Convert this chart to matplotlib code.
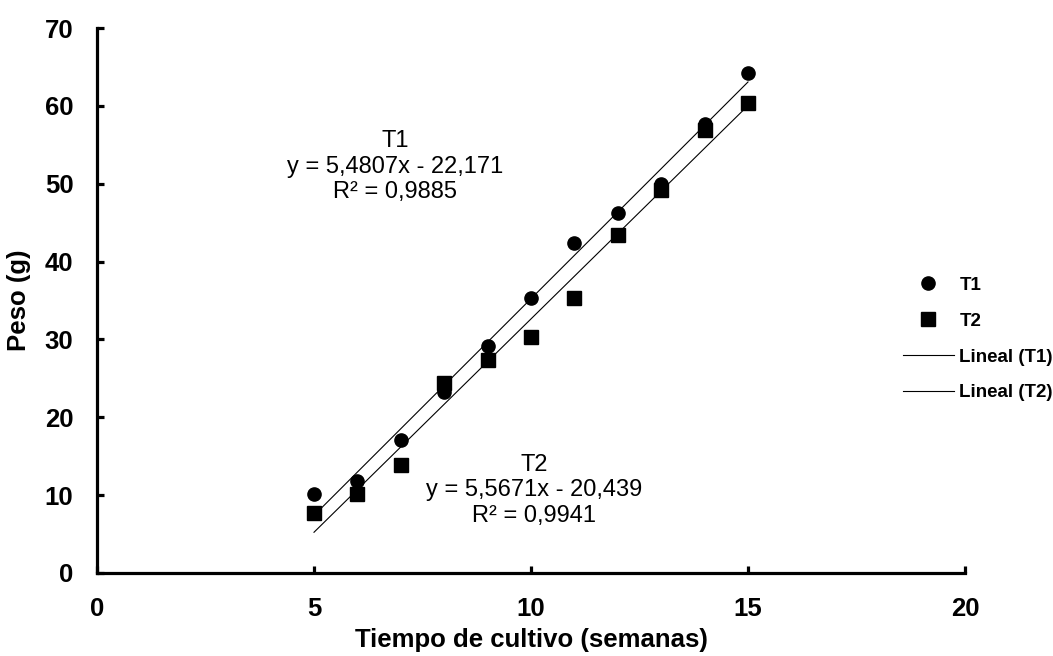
import matplotlib
matplotlib.use("Agg")
import matplotlib.pyplot as plt
import numpy as np

# weekly mean weight per treatment
semanas = [5, 6, 7, 8, 9, 10, 11, 12, 13, 14, 15]
peso_t1 = [10.2, 11.8, 17.1, 23.3, 29.1, 35.3, 42.4, 46.2, 49.9, 57.7, 64.2]
peso_t2 = [7.7, 10.1, 13.9, 24.4, 27.4, 30.3, 35.3, 43.4, 49.2, 56.9, 60.4]

# trendline coefficients (slope, intercept, R²) as reported
fit_t1 = (5.4807, -22.171, 0.9885)
fit_t2 = (5.5671, -20.439, 0.9941)

plt.rcParams.update({"font.family": ["Liberation Sans", "DejaVu Sans"]})

fig = plt.figure(figsize=(10.53, 6.56), dpi=100)
ax = fig.add_axes([97 / 1053, 83 / 656, 868 / 1053, 545 / 656])

ax.plot(semanas, peso_t1, "o", color="black", markersize=9.5, label="T1", zorder=3)
ax.plot(semanas, peso_t2, "s", color="black", markersize=9.5, label="T2", zorder=3)

xs = np.array([semanas[0], semanas[-1]])
ax.plot(xs, fit_t1[0] * xs + fit_t1[1], "-", color="black", lw=0.8, label="Lineal (T1)")
ax.plot(xs, fit_t2[0] * xs + fit_t2[1], "-", color="black", lw=0.8, label="Lineal (T2)")


def eq_text(name, fit):
    a, b, r2 = fit
    sign = "-" if b < 0 else "+"
    s = f"{name}\ny = {a:.4f}x {sign} {abs(b):.3f}\nR² = {r2:.4f}"
    return s.replace(".", ",")


ax.text(6.87, 52.2, eq_text("T1", fit_t1), ha="center", va="center",
        fontsize=17, linespacing=1.2)
ax.text(10.07, 10.6, eq_text("T2", fit_t2), ha="center", va="center",
        fontsize=17, linespacing=1.2)

ax.set_xlim(0, 20)
ax.set_ylim(0, 70)
ax.set_xticks(range(0, 21, 5))
ax.set_yticks(range(0, 71, 10))
for side in ("top", "right"):
    ax.spines[side].set_visible(False)
for side in ("left", "bottom"):
    ax.spines[side].set_linewidth(2.3)
ax.tick_params(direction="in", length=5, width=2.3, labelsize=18.5, pad=17)
for lbl in ax.get_xticklabels() + ax.get_yticklabels():
    lbl.set_fontweight("bold")

ax.set_xlabel("Tiempo de cultivo (semanas)", fontsize=18.5, fontweight="bold", labelpad=5)
ax.set_ylabel("Peso (g)", fontsize=18.5, fontweight="bold", labelpad=10)

fig.legend(loc="center left", bbox_to_anchor=(903 / 1053, 1 - 339 / 656), frameon=False,
           prop={"size": 13.5, "weight": "bold"}, handlelength=2.7, handletextpad=0.3,
           labelspacing=1.0, borderpad=0, borderaxespad=0)

fig.savefig("out.png", dpi=100)
